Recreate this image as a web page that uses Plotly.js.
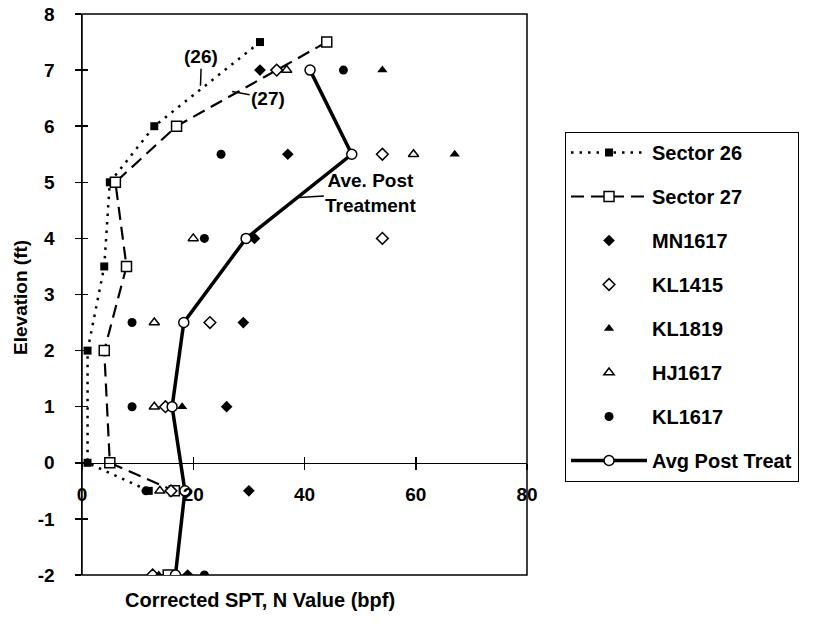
<!DOCTYPE html>
<html><head><meta charset="utf-8">
<script src="https://cdn.plot.ly/plotly-3.0.1.min.js"></script>
<style>html,body{margin:0;padding:0;background:#fff}</style>
</head><body><div id="chart" style="width:814px;height:637px"></div>
<script>
const xTicks = [0, 20, 40, 60, 80];
const yTicks = [-2, -1, 0, 1, 2, 3, 4, 5, 6, 7, 8];

const sector26Elev = [7.5, 6, 5, 3.5, 2, 0, -0.5];
const sector26N    = [32, 13, 5, 4, 1, 1, 12];
const sector27Elev = [7.5, 6, 5, 3.5, 2, 0, -0.5, null, -2];
const sector27N    = [44, 17, 6, 8, 4, 5, 16.6, null, 15.5];
const mn1617Elev = [7, 5.5, 4, 2.5, 1, -0.5, -2];
const mn1617N    = [32, 37, 31, 29, 26, 30, 19];
const kl1415Elev = [7, 5.5, 4, 2.5, 1, -0.5, -2];
const kl1415N    = [35, 54, 54, 23, 15, 16, 12.7];
const kl1819Elev = [7, 5.5, 1, -2];
const kl1819N    = [54, 67, 18, 13.8];
const hj1617Elev = [7, 5.5, 4, 2.5, 1, -0.5];
const hj1617N    = [36.8, 59.6, 20, 13, 13, 14];
const kl1617Elev = [7, 5.5, 4, 2.5, 1, -0.5, -2];
const kl1617N    = [47, 25, 22, 9, 9, 11.5, 22];
const avgElev = [7, 5.5, 4, 2.5, 1, -0.5, -2];
const avgN    = [41, 48.5, 29.5, 18.3, 16.2, 18.5, 16.8];

const FONT = 'Liberation Sans, Arial, Helvetica, sans-serif';
const K = '#000';

function pts(name, x, y, symbol, size, open) {
  return {type: 'scatter', mode: 'markers', name: name, x: x, y: y, legendgroup: name,
    marker: {symbol: symbol, size: size, color: open ? '#fff' : K, line: {color: K, width: open ? 1.5 : 0}}};
}

const traces = [
  {type: 'scatter', mode: 'lines+markers', name: 'Sector 26', x: sector26N, y: sector26Elev, legendgroup: 'a',
   line: {color: K, width: 2.5, dash: '2.5px,6px'}, marker: {symbol: 'square', size: 8, color: K}},
  {type: 'scatter', mode: 'lines+markers', name: 'Sector 27', x: sector27N, y: sector27Elev, legendgroup: 'b',
   connectgaps: false,
   line: {color: K, width: 2.2, dash: '13px,7px'}, marker: {symbol: 'square', size: 10, color: '#fff', line: {color: K, width: 1.5}}},
  pts('MN1617', mn1617N, mn1617Elev, 'diamond', 9, false),
  pts('KL1415', kl1415N, kl1415Elev, 'diamond', 9, true),
  pts('KL1819', kl1819N, kl1819Elev, 'triangle-up', 9, false),
  pts('HJ1617', hj1617N, hj1617Elev, 'triangle-up', 9, true),
  pts('KL1617', kl1617N, kl1617Elev, 'circle', 9, false),
  {type: 'scatter', mode: 'lines+markers', name: 'Avg Post Treat', x: avgN, y: avgElev, legendgroup: 'z',
   line: {color: K, width: 3.5}, marker: {symbol: 'circle', size: 10, color: '#fff', line: {color: K, width: 1.5}}}
];

const tickFont = {family: FONT, size: 19, color: K, weight: 'bold'};
const layout = {
  width: 814, height: 637,
  margin: {l: 82, r: 287, t: 14, b: 62},
  paper_bgcolor: '#fff', plot_bgcolor: '#fff',
  showlegend: true,
  legend: {x: 1.085, xanchor: 'left', y: 0.79, yanchor: 'top',
    bordercolor: K, borderwidth: 1.2, bgcolor: '#fff',
    font: {family: FONT, size: 20, color: K, weight: 'bold'},
    itemwidth: 76, tracegroupgap: 15, traceorder: 'grouped'},
  xaxis: {range: [0, 80], tickvals: xTicks, ticktext: xTicks.map(String), anchor: 'free', position: 0.2,
    showline: true, linecolor: K, linewidth: 1.5, ticks: 'outside', ticklen: 6, tickwidth: 1.5, tickcolor: K,
    showgrid: false, zeroline: false, tickfont: tickFont, ticklabelstandoff: 8, fixedrange: true},
  xaxis2: {range: [0, 80], tickvals: xTicks, overlaying: 'x', anchor: 'free', position: 0.2,
    showline: false, ticks: 'inside', ticklen: 6, tickwidth: 1.5, tickcolor: K, showticklabels: false,
    showgrid: false, zeroline: false},
  yaxis: {range: [-2, 8], tickvals: yTicks, ticktext: yTicks.map(String),
    showline: true, linecolor: K, linewidth: 1.5, ticks: 'outside', ticklen: 6, tickwidth: 1.5, tickcolor: K,
    showgrid: false, zeroline: false, tickfont: tickFont, ticklabelstandoff: 16, fixedrange: true},
  yaxis2: {range: [-2, 8], tickvals: yTicks, overlaying: 'y', anchor: 'x',
    showline: false, ticks: 'inside', ticklen: 6, tickwidth: 1.5, tickcolor: K, showticklabels: false,
    showgrid: false, zeroline: false},
  shapes: [{type: 'rect', xref: 'paper', yref: 'paper', x0: 0, x1: 1, y0: 0, y1: 1,
    line: {color: K, width: 1.5}, layer: 'below'}],
  annotations: [
    {text: 'Elevation (ft)', xref: 'paper', yref: 'paper', x: -0.165, y: 0.494, showarrow: false,
     textangle: -90, font: {family: FONT, size: 19, color: K, weight: 'bold'}},
    {text: 'Corrected SPT, N Value (bpf)', xref: 'paper', yref: 'paper', x: 0.4, y: -0.068, showarrow: false,
     font: {family: FONT, size: 20, color: K, weight: 'bold'}},
    {text: '(26)', x: 21.3, y: 6.72, ax: 1, ay: -29, showarrow: true, arrowhead: 0, arrowwidth: 1.5, arrowcolor: K,
     font: {family: FONT, size: 19, color: K, weight: 'bold'}},
    {text: '(27)', x: 27, y: 6.62, ax: 36, ay: 7, showarrow: true, arrowhead: 0, arrowwidth: 1.5, arrowcolor: K,
     font: {family: FONT, size: 19, color: K, weight: 'bold'}},
    {text: 'Ave. Post<br>Treatment', x: 39.0, y: 4.73, ax: 72, ay: -4, showarrow: true, arrowhead: 0, arrowwidth: 1.5, arrowcolor: K,
     align: 'center', font: {family: FONT, size: 19, color: K, weight: 'bold'}}
  ]
};
// dummy trace to activate overlay axes (crossing ticks)
traces.push({type: 'scatter', x: [null], y: [null], xaxis: 'x2', yaxis: 'y2', showlegend: false, hoverinfo: 'skip'});
Plotly.newPlot('chart', traces, layout, {displayModeBar: false, staticPlot: true});
</script></body></html>
